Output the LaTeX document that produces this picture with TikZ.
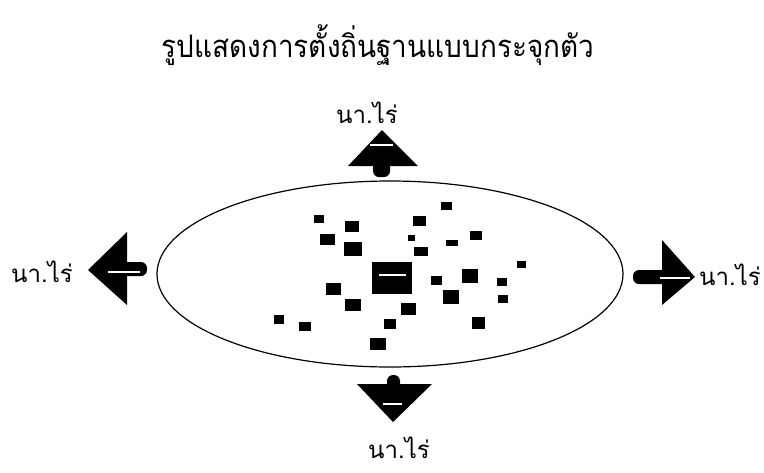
\documentclass[tikz,border=0pt]{standalone}
\usepackage{fontspec}
\usepackage{tikz}
\usetikzlibrary{positioning}
\newfontfamily\thaifont[Script=Thai]{Loma}
\newfontfamily\thaititle[Script=Thai,FakeStretch=0.9]{Loma}
\tikzset{
  lbl/.style    ={font=\thaifont\fontsize{24}{28}\selectfont, inner sep=0pt, anchor=base,
                  text depth=0pt},
  ttl/.style    ={font=\thaititle\fontsize{31}{36}\selectfont, inner sep=0pt, anchor=base},
  hut/.style    ={fill=black},
  farrow/.style ={fill=black},
  streak/.style ={draw=white, line width=1.8pt},
  zone/.style   ={draw=black, line width=1.2pt},
}
\begin{document}
\begin{tikzpicture}[x=1pt,y=-1pt]
\useasboundingbox (0,0) rectangle (764,472);
% title
\node[ttl] (title) at (378,57) {รูปแสดงการตั้งถิ่นฐานแบบกระจุกตัว};

% settlement zone
\draw[zone] (390,274) ellipse (233 and 93);

% houses: centre x / centre y / width / height
\foreach \x/\y/\w/\h in {319/219/10/8, 352/226/14/11, 327/239/15/11, 353/249/18/14,
  446/206/11/8, 419/221/13/10, 411/238/7/6, 421/251/14/9, 452/243/12/6,
  476/235/12/9, 436/280/11/9, 470/276/16/14, 521/264/9/7, 502/282/10/8,
  503/299/10/8, 451/297/16/14, 333/289/15/12, 353/305/16/12, 408/309/15/12,
  279/319/10/9, 305/326/12/9, 390/324/12/10, 478/323/13/12, 378/344/16/12}{
  \fill[hut] (\x-\w/2,\y-\h/2) rectangle (\x+\w/2,\y+\h/2);
}
% big house in the middle
\fill[hut] (372,262) rectangle (412,294);
\draw[white, line width=1.2pt] (379,275) -- (406,275);

% arrows out to the fields
\fill[farrow] (348,166) -- (418,166) -- (382,130) -- cycle;
\fill[farrow, rounded corners=6pt] (373,160) rectangle (390,177);
\draw[streak] (370,145) -- (393,145);

\fill[farrow] (127,232) -- (127,305) -- (88,270) -- cycle;
\fill[farrow, rounded corners=6pt] (120,262) rectangle (147,276);
\draw[streak] (108,272) -- (140,272);

\fill[farrow] (662,240) -- (662,305) -- (695,277) -- cycle;
\fill[farrow, rounded corners=6pt] (633,270) rectangle (668,284);
\draw[streak] (660,278) -- (690,278);

\fill[farrow] (357,384) -- (432,384) -- (393,422) -- cycle;
\fill[farrow, rounded corners=6pt] (387,375) rectangle (400,390);
\draw[streak] (383,404) -- (402,404);

% field labels
\node[lbl] (ntop)   at (367,123) {นา.ไร่};
\node[lbl] (nleft)  at (42,282)  {นา.ไร่};
\node[lbl] (nright) at (730,285) {นา.ไร่};
\node[lbl] (nbot)   at (399,458) {นา.ไร่};
\end{tikzpicture}
\end{document}
